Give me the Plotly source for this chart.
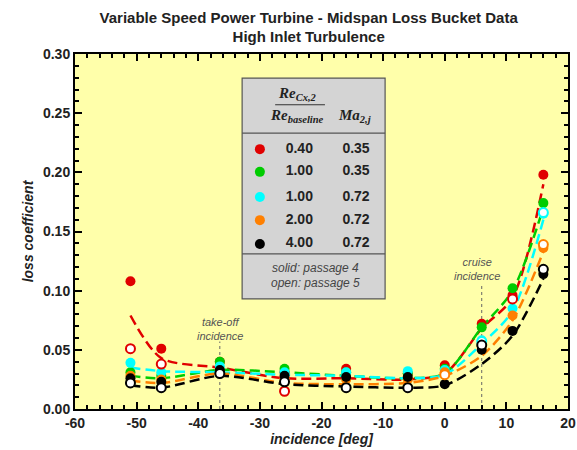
import plotly.graph_objects as go

# ---------------- data ----------------
incidence = [-51, -46, -36.5, -26, -16, -6, 0, 6, 11, 16]

# solid symbols (passage 4)
loss_red = [0.108, 0.051, 0.040, 0.031, 0.034, 0.030, 0.037, 0.072, 0.096, 0.198]
loss_green = [0.031, 0.028, 0.040, 0.034, 0.031, 0.030, 0.034, 0.069, 0.102, 0.174]
loss_cyan = [0.039, 0.031, 0.036, 0.031, 0.031, 0.032, 0.033, 0.058, 0.085, 0.165]
loss_orange = [0.028, 0.025, 0.030, 0.026, 0.025, 0.025, 0.031, 0.053, 0.079, 0.136]
loss_black = [0.026, 0.023, 0.033, 0.028, 0.027, 0.027, 0.021, 0.050, 0.066, 0.114]

# open symbols (passage 5)
open_red_x = [-51, -46, -26, 11]
open_red_y = [0.051, 0.038, 0.015, 0.093]
open_orange_x = [0, 16]
open_orange_y = [0.029, 0.139]
open_cyan_x = [6, 16]
open_cyan_y = [0.057, 0.166]
open_black_x = [-51, -46, -36.5, -26, -16, -6, 6, 16]
open_black_y = [0.022, 0.018, 0.030, 0.023, 0.018, 0.018, 0.054, 0.118]

# fitted curves
fit_red = [0.079, 0.043, 0.035, 0.026, 0.026, 0.025, 0.030, 0.068, 0.094, 0.190]
fit_green = [0.028, 0.026, 0.033, 0.031, 0.028, 0.026, 0.030, 0.069, 0.100, 0.170]
fit_cyan = [0.035, 0.032, 0.031, 0.029, 0.028, 0.026, 0.029, 0.055, 0.083, 0.160]
fit_orange = [0.024, 0.022, 0.030, 0.022, 0.021, 0.022, 0.028, 0.045, 0.075, 0.133]
fit_black = [0.020, 0.018, 0.028, 0.021, 0.019, 0.018, 0.020, 0.038, 0.062, 0.110]

re_ratio = ["0.40", "1.00", "1.00", "2.00", "4.00"]
mach = ["0.35", "0.35", "0.72", "0.72", "0.72"]
colors = ["#e00000", "#00cc00", "#00ffff", "#ff8000", "#000000"]

solid_sets = [loss_red, loss_green, loss_cyan, loss_orange, loss_black]
fit_sets = [fit_red, fit_green, fit_cyan, fit_orange, fit_black]
open_sets = [(open_red_x, open_red_y, colors[0]),
             (open_orange_x, open_orange_y, colors[3]),
             (open_cyan_x, open_cyan_y, colors[2]),
             (open_black_x, open_black_y, colors[4])]

xticks = [-60, -50, -40, -30, -20, -10, 0, 10, 20]
yticks = [0.00, 0.05, 0.10, 0.15, 0.20, 0.25, 0.30]

takeoff_inc = -36.5
cruise_inc = 6

FONT = "Liberation Sans, Arial, sans-serif"
SERIF = "Liberation Serif, Times New Roman, serif"

fig = go.Figure()

# dashed fit curves
for fit, c in zip(fit_sets, colors):
    fig.add_trace(go.Scatter(x=incidence, y=fit, mode="lines",
                             line=dict(color=c, width=2.5, dash="10px,5px", shape="spline", smoothing=0.8),
                             hoverinfo="skip", showlegend=False))

# solid markers
for vals, c in zip(solid_sets, colors):
    fig.add_trace(go.Scatter(x=incidence, y=vals, mode="markers",
                             marker=dict(color=c, size=10, line=dict(width=0)),
                             showlegend=False))

# open markers
for ox, oy, c in open_sets:
    fig.add_trace(go.Scatter(x=ox, y=oy, mode="markers",
                             marker=dict(color="white", size=9, line=dict(color=c, width=2)),
                             showlegend=False))

# legend box content on overlay axis (paper-like 0..1)
legend_rows_y = [0.732, 0.668, 0.597, 0.532, 0.465]
fig.add_trace(go.Scatter(x=[0.375] * 5, y=legend_rows_y, mode="markers",
                         marker=dict(color=colors, size=10), xaxis="x2", yaxis="y2",
                         showlegend=False, hoverinfo="skip"))
fig.add_trace(go.Scatter(x=[0.455] * 5, y=legend_rows_y, mode="text", text=re_ratio,
                         textposition="middle center",
                         textfont=dict(family=FONT, size=14, color="#222", weight="bold"),
                         xaxis="x2", yaxis="y2", showlegend=False, hoverinfo="skip"))
fig.add_trace(go.Scatter(x=[0.570] * 5, y=legend_rows_y, mode="text", text=mach,
                         textposition="middle center",
                         textfont=dict(family=FONT, size=14, color="#222", weight="bold"),
                         xaxis="x2", yaxis="y2", showlegend=False, hoverinfo="skip"))

shapes = []
# legend box
shapes.append(dict(type="rect", xref="paper", yref="paper", x0=0.339, x1=0.629, y0=0.310, y1=0.932,
                   fillcolor="#d4d4d4", line=dict(color="#555555", width=1.2), layer="below"))
shapes.append(dict(type="line", xref="paper", yref="paper", x0=0.339, x1=0.629, y0=0.777, y1=0.777,
                   line=dict(color="#555555", width=1.2), layer="below"))
shapes.append(dict(type="line", xref="paper", yref="paper", x0=0.339, x1=0.629, y0=0.437, y1=0.437,
                   line=dict(color="#555555", width=1.2), layer="below"))
shapes.append(dict(type="line", xref="paper", yref="paper", x0=0.406, x1=0.507, y0=0.857, y1=0.857,
                   line=dict(color="#333333", width=1), layer="below"))
# incidence marker lines
shapes.append(dict(type="line", xref="x", yref="y", x0=takeoff_inc, x1=takeoff_inc, y0=0, y1=0.057,
                   line=dict(color="#666666", width=1, dash="dot"), layer="below"))
shapes.append(dict(type="line", xref="x", yref="y", x0=cruise_inc, x1=cruise_inc, y0=0, y1=0.106,
                   line=dict(color="#666666", width=1, dash="dot"), layer="below"))

ann = []
# header
ann.append(dict(xref="paper", yref="paper", x=0.451, y=0.857, yanchor="bottom", showarrow=False,
                text="<b><i>Re<sub>Cx,2</sub></i></b>", font=dict(family=SERIF, size=15, color="#222")))
ann.append(dict(xref="paper", yref="paper", x=0.451, y=0.857, yanchor="top", showarrow=False,
                text="<b><i>Re<sub>baseline</sub></i></b>", font=dict(family=SERIF, size=15, color="#222")))
ann.append(dict(xref="paper", yref="paper", x=0.566, y=0.857, yanchor="top", showarrow=False,
                text="<b><i>Ma<sub>2,j</sub></i></b>", font=dict(family=SERIF, size=15, color="#222")))
ann.append(dict(xref="paper", yref="paper", x=0.487, y=0.397, showarrow=False, text="solid: passage 4",
                font=dict(family=FONT, size=12, color="#444", style="italic")))
ann.append(dict(xref="paper", yref="paper", x=0.487, y=0.355, showarrow=False, text="open: passage 5",
                font=dict(family=FONT, size=12, color="#444", style="italic")))
# incidence labels
ann.append(dict(xref="x", yref="y", x=takeoff_inc, y=0.068, showarrow=False, text="take-off<br>incidence",
                font=dict(family=FONT, size=11, color="#555", style="italic")))
ann.append(dict(xref="x", yref="y", x=cruise_inc - 0.8, y=0.118, showarrow=False, text="cruise<br>incidence",
                font=dict(family=FONT, size=11, color="#555", style="italic")))

axis_common = dict(showline=True, linecolor="black", linewidth=2, mirror="ticks",
                   ticks="inside", ticklen=7, tickwidth=1.5, tickcolor="black",
                   showgrid=False, zeroline=False, automargin=False,
                   tickfont=dict(family=FONT, size=14, color="#222", weight="bold"))

fig.update_layout(
    width=577, height=450,
    margin=dict(l=75, r=9, t=54, b=41, autoexpand=False),
    paper_bgcolor="white", plot_bgcolor="#ffffaa",
    title=dict(text="Variable Speed Power Turbine - Midspan Loss Bucket Data<br>High Inlet Turbulence",
               xref="paper", x=0.474, xanchor="center", yref="container", y=0.950, yanchor="top",
               automargin=False,
               font=dict(family=FONT, size=15, color="#222", weight="bold")),
    xaxis=dict(range=[-60, 20], tickvals=xticks, ticktext=[str(v) for v in xticks],
               minor=dict(ticks="inside", dtick=2, ticklen=4, tickcolor="black"),
               title=dict(text="incidence [deg]", standoff=0,
                          font=dict(family=FONT, size=14, color="#222", weight="bold", style="italic")),
               **axis_common),
    yaxis=dict(range=[0, 0.30], tickvals=yticks, ticktext=[f"{v:.2f}" for v in yticks],
               minor=dict(ticks="inside", dtick=0.01, ticklen=4, tickcolor="black"),
               title=dict(text="loss coefficient", standoff=6,
                          font=dict(family=FONT, size=14, color="#222", weight="bold", style="italic")),
               **axis_common),
    xaxis2=dict(range=[0, 1], overlaying="x", visible=False, fixedrange=True),
    yaxis2=dict(range=[0, 1], overlaying="y", visible=False, fixedrange=True),
    shapes=shapes, annotations=ann, showlegend=False,
)

fig.write_html("out.html", config={"displayModeBar": False},
               post_script="document.body.style.margin='0';document.body.style.padding='0';")
